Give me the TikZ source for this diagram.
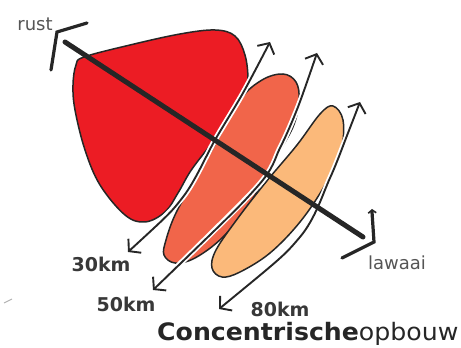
\documentclass[tikz,border=0pt]{standalone}
\usepackage{fontspec}
\setmainfont{DejaVu Sans}
\usetikzlibrary{arrows.meta}
\definecolor{cred}{HTML}{EC1C24}
\definecolor{corange}{HTML}{F1654A}
\definecolor{cpeach}{HTML}{FBB97A}
\definecolor{outl}{HTML}{262626}
\definecolor{lbl}{HTML}{383838}
\definecolor{lgray}{HTML}{555555}
\begin{document}
\begin{tikzpicture}[x=1pt,y=1pt,
  blob/.style={draw=outl, line width=1.5pt, line join=round},
  arr/.style={draw=outl, line width=1.9pt,
    {Straight Barb[length=8pt,width=19pt]}-{Straight Barb[length=8pt,width=19pt]},
    preaction={draw=white, line width=5.5pt, -}},
  axisline/.style={draw=outl, line width=5pt, line cap=round},
  chev/.style={draw=outl, line width=3.2pt, line cap=round, line join=miter},
  km/.style={text=lbl, font=\bfseries\fontsize{19}{19}\selectfont, inner sep=0pt},
  endlbl/.style={text=lgray, font=\fontsize{18}{18}\selectfont, inner sep=0pt}]
\useasboundingbox (0,0) rectangle (461,348);
% red blob
\fill[cred, blob] plot[smooth cycle, tension=0.6] coordinates {
  (84,291) (130,303) (180,314) (215,318) (235,312) (245,293) (248,268)
  (245,248) (225,220) (205,196) (190,176) (178,155) (165,136) (145,126)
  (125,133) (100,163) (85,198) (75,238) (73,263) (76,283)};
% orange band
\fill[corange, blob] plot[smooth cycle, tension=0.6] coordinates {
  (283,274) (296,266) (299,248) (293,221) (273,186) (250,145) (223,111)
  (195,90) (175,85) (164,93) (166,108) (175,133) (192,164) (214,202)
  (240,248) (262,268)};
% peach band
\fill[cpeach, blob] plot[smooth cycle, tension=0.6] coordinates {
  (333,242) (343,228) (341,198) (325,163) (300,126) (270,95) (240,76)
  (222,71) (212,80) (216,98) (238,130) (266,166) (297,203) (320,234)};
% distance arrows
\coordinate (a1s) at (128,96);  \coordinate (a1e) at (270,306);
\coordinate (a2s) at (153,58);  \coordinate (a2e) at (317,295);
\coordinate (a3s) at (219,39);  \coordinate (a3e) at (360,246);
\draw[arr] plot[smooth] coordinates {(a1s) (183,151) (215,208) (243,255) (a1e)};
\draw[arr] plot[smooth] coordinates {(a2s) (257,161) (280,200) (298,241) (a2e)};
\draw[arr] plot[smooth] coordinates {(a3s) (300,111) (330,170) (348,215) (a3e)};
% rust - lawaai axis
\coordinate (rs) at (65,306);
\coordinate (lw) at (363,111);
\draw[axisline] (rs) -- (lw);
\coordinate (rc) at (57,316);
\coordinate (ra) at (51,278);
\coordinate (rb) at (87,325);
\draw[chev] (ra) -- (rc) -- (rb);
\coordinate (lc) at (374,106);
\coordinate (la) at (372,136);
\coordinate (lb) at (342,90);
\draw[chev] (lb) -- (lc) -- (la);
\draw[outl, line width=1.6pt, -{Straight Barb[length=3pt,width=8pt]}] (lc) -- ([yshift=3pt]la);
% stray mark
\coordinate (m1) at (4,45);
\coordinate (m2) at (12,49);
\draw[gray!60, line width=1pt] (m1) -- (m2);
% labels
\node[endlbl] (rust) at (35,324) {rust};
\node[endlbl] (lawaai) at (397,85) {lawaai};
\node[km] (k30) at (101,84) {30km};
\node[km] (k50) at (126,44) {50km};
\node[km] (k80) at (280,39) {80km};
\node[inner sep=0pt, anchor=base west, text=outl, font=\fontsize{24}{24}\selectfont] (title) at (157,7)
  {\scalebox{1.05}[1]{\textbf{Concentrische}opbouw}};
\end{tikzpicture}
\end{document}
